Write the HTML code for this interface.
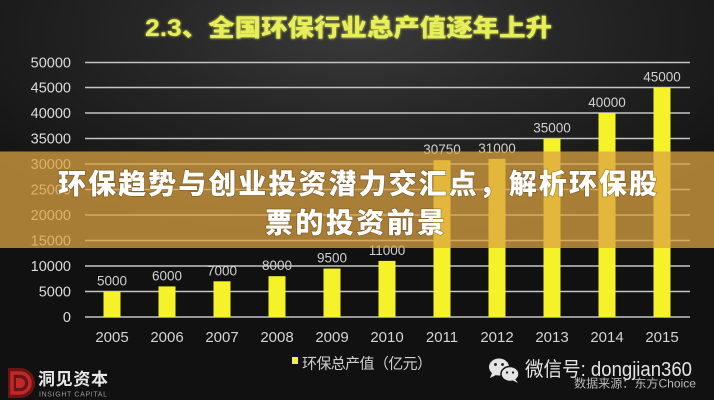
<!DOCTYPE html>
<html><head><meta charset="utf-8"><style>
html,body{margin:0;padding:0;background:#151515;}
body{width:714px;height:400px;overflow:hidden;}
.bg{position:absolute;left:0;top:0;width:714px;height:400px;
background:radial-gradient(ellipse 70% 55% at 50% 8%, #3a3a3a 0%, #272727 40%, #1a1a1a 75%, #111 100%);}
svg{position:absolute;left:0;top:0;}
text{font-family:"Liberation Sans","Noto Sans CJK SC",sans-serif;}
</style></head><body>
<div class="bg"></div>
<svg width="714" height="400" viewBox="0 0 714 400" xmlns="http://www.w3.org/2000/svg">
<defs>
<filter id="glow" x="-10%" y="-50%" width="120%" height="200%">
<feGaussianBlur stdDeviation="1.2" result="b"/>
<feMerge><feMergeNode in="b"/><feMergeNode in="SourceGraphic"/></feMerge>
</filter>
</defs>
<!-- title -->
<text x="145" y="36" font-size="24" font-weight="900" fill="#e6ee58" textLength="407" lengthAdjust="spacingAndGlyphs" filter="url(#glow)">2.3、全国环保行业总产值逐年上升</text>

<!-- grid -->
<g stroke="#c4c4c4" stroke-width="1.6">
<line x1="85" y1="62.5" x2="690" y2="62.5"/>
<line x1="85" y1="87.5" x2="690" y2="87.5"/>
<line x1="85" y1="113" x2="690" y2="113"/>
<line x1="85" y1="138.5" x2="690" y2="138.5"/>
<line x1="85" y1="164" x2="690" y2="164"/>
<line x1="85" y1="189.5" x2="690" y2="189.5"/>
<line x1="85" y1="215" x2="690" y2="215"/>
<line x1="85" y1="240.5" x2="690" y2="240.5"/>
<line x1="85" y1="266" x2="690" y2="266"/>
<line x1="85" y1="291.5" x2="690" y2="291.5"/>
<line x1="85" y1="317" x2="690" y2="317"/>
</g>
<!-- y labels -->
<g font-size="14.5" fill="#dcdcdc" text-anchor="end">
<text x="71" y="67.5">50000</text>
<text x="71" y="92.5">45000</text>
<text x="71" y="118">40000</text>
<text x="71" y="143.5">35000</text>
<text x="71" y="169">30000</text>
<text x="71" y="194.5">25000</text>
<text x="71" y="220">20000</text>
<text x="71" y="245.5">15000</text>
<text x="71" y="271">10000</text>
<text x="71" y="296.5">5000</text>
<text x="71" y="322">0</text>
</g>
<!-- bars -->
<g fill="#f6f22a">
<rect x="103.5" y="291.5" width="17" height="25.5"/>
<rect x="158.5" y="286.4" width="17" height="30.6"/>
<rect x="213.5" y="281.3" width="17" height="35.7"/>
<rect x="268.5" y="276.2" width="17" height="40.8"/>
<rect x="323.5" y="268.55" width="17" height="48.45"/>
<rect x="378.5" y="260.9" width="17" height="56.1"/>
<rect x="433.5" y="160.2" width="17" height="156.8"/>
<rect x="488.5" y="158.9" width="17" height="158.1"/>
<rect x="543.5" y="138.5" width="17" height="178.5"/>
<rect x="598.5" y="113" width="17" height="204"/>
<rect x="653.5" y="87.5" width="17" height="229.5"/>
</g>
<!-- value labels -->
<g font-size="13.5" fill="#d0d0d0" text-anchor="middle">
<text x="112" y="285.5">5000</text>
<text x="167" y="280.4">6000</text>
<text x="222" y="275.3">7000</text>
<text x="277" y="270.2">8000</text>
<text x="332" y="262.5">9500</text>
<text x="387" y="254.9">11000</text>
<text x="442" y="154">30750</text>
<text x="497" y="153">31000</text>
<text x="552" y="132.5">35000</text>
<text x="607" y="107">40000</text>
<text x="662" y="81.5">45000</text>
</g>
<!-- year labels -->
<g font-size="15" fill="#d4d4d4" text-anchor="middle">
<text x="112" y="342">2005</text>
<text x="167" y="342">2006</text>
<text x="222" y="342">2007</text>
<text x="277" y="342">2008</text>
<text x="332" y="342">2009</text>
<text x="387" y="342">2010</text>
<text x="442" y="342">2011</text>
<text x="497" y="342">2012</text>
<text x="552" y="342">2013</text>
<text x="607" y="342">2014</text>
<text x="662" y="342">2015</text>
</g>
<!-- legend -->
<rect x="292" y="357" width="6" height="7" fill="#f0ee50"/>
<text x="302" y="368.5" font-size="15" fill="#cfcfcf" textLength="130" lengthAdjust="spacing">环保总产值（亿元）</text>

<!-- logo bottom-left -->
<g>
<path d="M8 368 L20 368 A15 15 0 0 1 20 398 L8 398 Z" fill="#6a1414"/>
<path d="M12 373 L20 373 A10 10 0 0 1 20 393 L12 393 Z" fill="none" stroke="#c0282a" stroke-width="3.5"/>
<path d="M16 378 L20 378 A5 5 0 0 1 20 388 L16 388 Z" fill="#c0282a"/>
</g>
<text x="38" y="385" font-size="17" font-weight="700" fill="#e8e8e8" textLength="70" lengthAdjust="spacing">洞见资本</text>
<text x="39" y="396.5" font-size="7" fill="#9a9a9a" textLength="68" lengthAdjust="spacing">INSIGHT CAPITAL</text>

<!-- wechat -->
<g fill="#e4e4e4">
<ellipse cx="499" cy="367" rx="10" ry="8.5"/>
<path d="M492 373 L490 378 L496 375 Z"/>
<ellipse cx="510" cy="374" rx="9" ry="7.5" stroke="#151515" stroke-width="1.5"/>
<path d="M515 379 L518 383 L512 380 Z"/>
</g>
<g fill="#151515">
<circle cx="495.5" cy="364.5" r="1.4"/><circle cx="502.5" cy="364.5" r="1.4"/>
<circle cx="507" cy="372.5" r="1.1"/><circle cx="513" cy="372.5" r="1.1"/>
</g>
<text x="525" y="376" font-size="20" fill="#e4e4e4" textLength="167" lengthAdjust="spacingAndGlyphs">微信号: dongjian360</text>
<text x="574" y="387.5" font-size="12" fill="#b8b8b8" textLength="122" lengthAdjust="spacingAndGlyphs">数据来源：东方Choice</text>

<!-- banner overlay -->
<rect x="0" y="151.5" width="714" height="96.5" fill="rgba(220,162,66,0.74)"/>
<g font-size="28" font-weight="900" fill="#ffffff" style="paint-order:stroke" stroke="rgba(60,40,10,0.35)" stroke-width="1.5">
<text x="58" y="193.5" textLength="599" lengthAdjust="spacing">环保趋势与创业投资潜力交汇点，解析环保股</text>
<text x="265" y="232.5" textLength="180" lengthAdjust="spacing">票的投资前景</text>
</g>
</svg>
</body></html>
